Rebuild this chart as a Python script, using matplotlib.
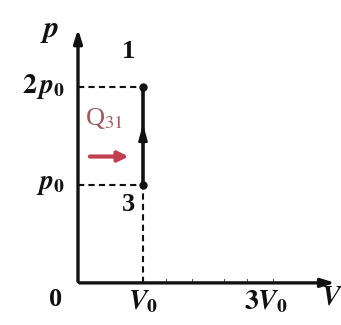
import matplotlib.pyplot as plt

plt.rcParams['mathtext.fontset'] = 'stix'
plt.rcParams['font.family'] = ['Liberation Serif', 'DejaVu Serif']

# state points of the 3 -> 1 isochoric process (units of V0, p0)
state_labels = ['3', '1']
state_V = [1, 1]
state_p = [1, 2]

# axis tick labels
p_ticks = [1, 2]
p_tick_labels = [r'$\mathbfit{p}_{\mathbf{0}}$', r'$\mathbf{2}\,\mathbfit{p}_{\mathbf{0}}$']
V_ticks = [1, 3]
V_tick_labels = [r'$\mathbfit{V}_{\mathbf{0}}$', r'$\mathbf{3}\mathbfit{V}_{\mathbf{0}}$']
minor_V = [1.35, 1.75, 2.25, 2.6, 3.0]

fig = plt.figure(figsize=(3.41, 3.25), dpi=100)
ax = fig.add_axes([0, 0, 1, 1])
ax.set_xlim(-1.2, 4.046)
ax.set_ylim(-0.43, 2.888)
ax.axis('off')

black = '#111111'
# axes with arrows
ax.annotate('', xy=(4.0, 0), xytext=(-0.02, 0),
            arrowprops=dict(arrowstyle='-|>,head_length=0.8,head_width=0.25', color=black, lw=2.4))
ax.annotate('', xy=(0, 2.62), xytext=(0, -0.015),
            arrowprops=dict(arrowstyle='-|>,head_length=0.8,head_width=0.25', color=black, lw=2.4))

# faint ticks on V axis
for v in minor_V:
    ax.plot([v, v], [0, 0.04], color='#555555', lw=0.8)

# dashed guides
for p in state_p:
    ax.plot([0, state_V[0]], [p, p], ls=(0, (3, 2)), color=black, lw=1.5)
ax.plot([state_V[0], state_V[0]], [0, state_p[0]], ls=(0, (3, 2)), color=black, lw=1.5)

# process line 3 -> 1
ax.plot(state_V, state_p, color=black, lw=2.6)
ax.plot(state_V, state_p, 'o', color=black, ms=5)
mid = (state_p[0] + state_p[1]) / 2
ax.annotate('', xy=(state_V[0], mid + 0.15), xytext=(state_V[0], mid - 0.1),
            arrowprops=dict(arrowstyle='-|>,head_length=0.9,head_width=0.25', color=black, lw=2))

# state labels
ax.text(state_V[1] - 0.23, state_p[1] + 0.36, state_labels[1], fontsize=19,
        fontweight='bold', ha='center', va='center', color=black)
ax.text(state_V[0] - 0.23, state_p[0] - 0.2, state_labels[0], fontsize=19,
        fontweight='bold', ha='center', va='center', color=black)

# tick labels
for p, lab in zip(p_ticks, p_tick_labels):
    ax.text(-0.2, p, lab, fontsize=20, ha='right', va='center', color=black)
for v, lab in zip(V_ticks, V_tick_labels):
    ax.text(v - 0.05 * (v - 1), -0.2, lab, fontsize=20, ha='center', va='center', color=black)
ax.text(-0.35, -0.17, '0', fontsize=19, fontweight='bold', ha='center', va='center', color=black)
ax.text(3.9, -0.16, r'$\mathbfit{V}$', fontsize=20, ha='center', va='center', color=black)
ax.text(-0.43, 2.58, r'$\mathbfit{p}$', fontsize=22, ha='center', va='center', color=black)

# heat input
ax.text(0.1, 1.68, r'Q$_{31}$', fontsize=19, ha='left', va='center', color='#a05c5c')
ax.annotate('', xy=(0.82, 1.29), xytext=(0.14, 1.29),
            arrowprops=dict(arrowstyle='-|>,head_length=0.6,head_width=0.3', color='#c04050', lw=3))

fig.savefig('out.png', dpi=100)
